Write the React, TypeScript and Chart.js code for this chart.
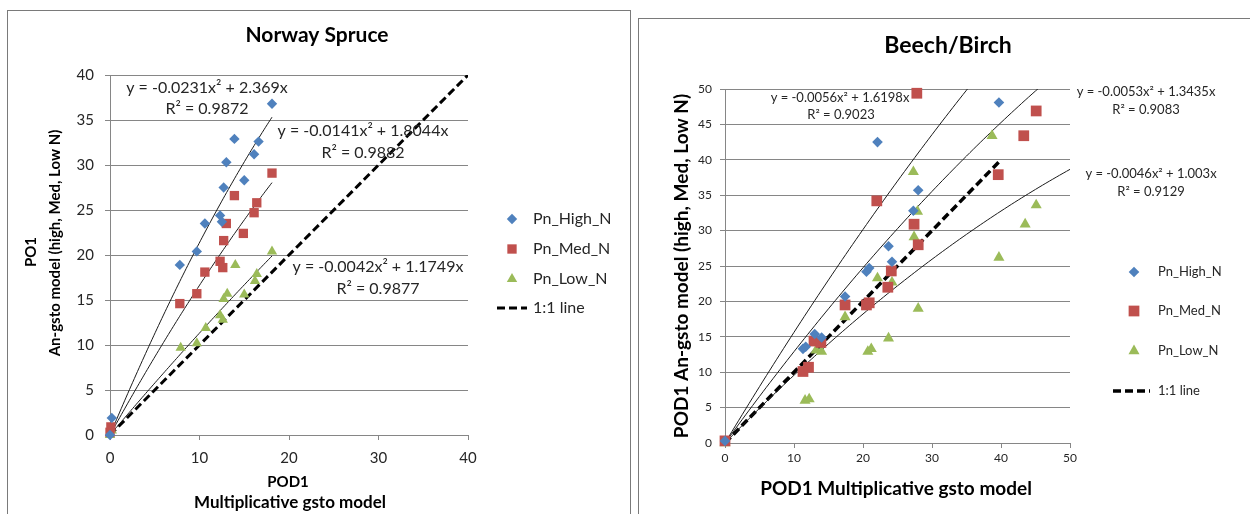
import React, { useEffect, useRef } from "react";
import { Chart, registerables } from "chart.js";
import { drawPoint } from "chart.js/helpers";

Chart.register(...registerables);

const FONT = "Lato, 'Liberation Sans', sans-serif";
const GRID = "#868686";
const TEXT = "#262626";
const COLORS = ["#4F81BD", "#C0504D", "#9BBB59"];
const STYLES = ["rectRot", "rect", "triangle"];

const seriesNames = ["Pn_High_N", "Pn_Med_N", "Pn_Low_N"];
const oneToOneName = "1:1 line";

// ---------- Norway Spruce ----------
const spruceHighX = [0, 0.2, 7.8, 9.7, 10.6, 12.3, 12.5, 12.7, 13.0, 13.9, 15.0, 16.1, 16.6, 18.1];
const spruceHighY = [0, 1.9, 18.9, 20.4, 23.5, 24.4, 23.7, 27.5, 30.3, 32.9, 28.3, 31.2, 32.6, 36.8];
const spruceMedX = [0, 0.1, 7.8, 9.7, 10.6, 12.3, 12.6, 12.7, 13.0, 13.9, 14.9, 16.1, 16.4, 18.1];
const spruceMedY = [0.3, 0.9, 14.6, 15.7, 18.1, 19.3, 18.6, 21.6, 23.5, 26.6, 22.4, 24.7, 25.8, 29.1];
const spruceLowX = [0, 0.2, 7.9, 9.7, 10.7, 12.3, 12.6, 12.7, 13.1, 14.0, 15.0, 16.2, 16.4, 18.1];
const spruceLowY = [0, 0.5, 9.7, 10.2, 11.9, 13.3, 12.8, 15.1, 15.7, 18.9, 15.6, 17.1, 17.9, 20.4];
// polynomial trendline coefficients as printed on the chart (y = a x^2 + b x)
const spruceTrendA = [-0.0231, -0.0141, -0.0042];
const spruceTrendB = [2.369, 1.8044, 1.1749];
const spruceTrendRange = [0, 18.1];
const spruceOneToOne = [0, 40];
const spruceEquations = ["y = -0.0231x² + 2.369x", "y = -0.0141x² + 1.8044x", "y = -0.0042x² + 1.1749x"];
const spruceR2 = ["R² = 0.9872", "R² = 0.9882", "R² = 0.9877"];

// ---------- Beech/Birch ----------
const beechHighX = [0, 11.3, 11.7, 13.0, 14.0, 17.4, 20.5, 20.9, 22.1, 23.7, 24.2, 27.3, 28.0, 39.7];
const beechHighY = [0.3, 13.3, 13.6, 15.4, 14.9, 20.7, 24.2, 24.7, 42.5, 27.8, 25.6, 32.8, 35.7, 48.1];
const beechMedX = [0, 11.3, 12.1, 12.9, 13.9, 17.4, 20.5, 20.9, 22.0, 23.6, 24.1, 27.4, 28.0, 27.8, 39.6, 43.3, 45.1];
const beechMedY = [0.3, 10.1, 10.7, 14.4, 14.2, 19.5, 19.5, 19.8, 34.2, 22.0, 24.3, 30.9, 28.0, 49.4, 37.9, 43.4, 46.9];
const beechLowX = [0, 11.6, 12.2, 13.2, 14.0, 17.4, 20.7, 21.2, 22.1, 23.7, 24.2, 27.3, 27.4, 27.9, 28.0, 38.7, 39.7, 43.5, 45.1];
const beechLowY = [0, 6.0, 6.2, 13.1, 12.9, 17.8, 12.9, 13.3, 23.3, 14.8, 22.7, 38.3, 29.1, 32.7, 19.0, 43.4, 26.2, 30.9, 33.6];
const beechTrendA = [-0.0056, -0.0053, -0.0046];
const beechTrendB = [1.6198, 1.3435, 1.003];
const beechTrendRange = [0, 50];
const beechOneToOne = [0, 40];
const beechEquations = ["y = -0.0056x² + 1.6198x", "y = -0.0053x² + 1.3435x", "y = -0.0046x² + 1.003x"];
const beechR2 = ["R² = 0.9023", "R² = 0.9083", "R² = 0.9129"];

type TextItem = { text: string; x: number; y: number; size: number; bold?: boolean; rotate?: boolean; color?: string };

type PanelSpec = {
  left: number;
  width: number;
  height: number;
  area: { left: number; top: number; right: number; bottom: number };
  xs: number[][];
  ys: number[][];
  radii: number[];
  trendA: number[];
  trendB: number[];
  trendRange: number[];
  oneToOne: number[];
  dashWidth: number;
  xMax: number;
  xStep: number;
  yMax: number;
  yStep: number;
  tickSize: number;
  xTickPad: number;
  yTickPad: number;
  texts: TextItem[];
  legend: { markerX: number; textX: number; ys: number[]; size: number; dashFrom: number; dashTo: number };
};

function zip(xs: number[], ys: number[]) {
  return xs.map((x, i) => ({ x, y: ys[i] }));
}

function trendPoints(a: number, b: number, range: number[]) {
  const pts: { x: number; y: number }[] = [];
  const n = 100;
  for (let i = 0; i <= n; i++) {
    const x = range[0] + ((range[1] - range[0]) * i) / n;
    pts.push({ x, y: a * x * x + b * x });
  }
  return pts;
}

const spruce: PanelSpec = {
  left: 0,
  width: 634,
  height: 514,
  area: { left: 110, top: 75, right: 468, bottom: 435 },
  xs: [spruceHighX, spruceMedX, spruceLowX],
  ys: [spruceHighY, spruceMedY, spruceLowY],
  radii: [5.2, 6.6, 6],
  trendA: spruceTrendA,
  trendB: spruceTrendB,
  trendRange: spruceTrendRange,
  oneToOne: spruceOneToOne,
  dashWidth: 3,
  xMax: 40,
  xStep: 10,
  yMax: 40,
  yStep: 5,
  tickSize: 15,
  xTickPad: 9,
  yTickPad: 11,
  texts: [
    { text: "Norway Spruce", x: 317, y: 35, size: 21, bold: true, color: "#000" },
    { text: "POD1", x: 288, y: 482, size: 15, bold: true, color: "#000" },
    { text: "Multiplicative gsto model", x: 290, y: 503, size: 17, bold: true, color: "#000" },
    { text: "PO1", x: 31, y: 252, size: 15, bold: true, rotate: true, color: "#000" },
    { text: "An-gsto model (high, Med, Low N)", x: 55, y: 243, size: 15, bold: true, rotate: true, color: "#000" },
    { text: spruceEquations[0], x: 207, y: 88, size: 16 },
    { text: spruceR2[0], x: 207, y: 109, size: 16 },
    { text: spruceEquations[1], x: 363, y: 131, size: 16 },
    { text: spruceR2[1], x: 363, y: 153, size: 16 },
    { text: spruceEquations[2], x: 378, y: 267, size: 16 },
    { text: spruceR2[2], x: 378, y: 289, size: 16 },
  ],
  legend: { markerX: 512, textX: 533, ys: [219, 249, 279, 308], size: 16, dashFrom: 497, dashTo: 527 },
};

const beech: PanelSpec = {
  left: 634,
  width: 616,
  height: 514,
  area: { left: 725, top: 89, right: 1070, bottom: 443 },
  xs: [beechHighX, beechMedX, beechLowX],
  ys: [beechHighY, beechMedY, beechLowY],
  radii: [5.3, 7.6, 6.4],
  trendA: beechTrendA,
  trendB: beechTrendB,
  trendRange: beechTrendRange,
  oneToOne: beechOneToOne,
  dashWidth: 3.5,
  xMax: 50,
  xStep: 10,
  yMax: 50,
  yStep: 5,
  tickSize: 12,
  xTickPad: 3,
  yTickPad: 8,
  texts: [
    { text: "Beech/Birch", x: 948, y: 46, size: 23, bold: true, color: "#000" },
    { text: "POD1 Multiplicative gsto model", x: 896, y: 489, size: 19, bold: true, color: "#000" },
    { text: "POD1 An-gsto model (high, Med, Low N)", x: 682, y: 266, size: 19, bold: true, rotate: true, color: "#000" },
    { text: beechEquations[0], x: 840, y: 98, size: 13 },
    { text: beechR2[0], x: 841, y: 115, size: 13 },
    { text: beechEquations[1], x: 1146, y: 92, size: 13 },
    { text: beechR2[1], x: 1146, y: 110, size: 13 },
    { text: beechEquations[2], x: 1151, y: 174, size: 13 },
    { text: beechR2[2], x: 1151, y: 192, size: 13 },
  ],
  legend: { markerX: 1134, textX: 1158, ys: [272, 311, 351, 391], size: 13, dashFrom: 1113, dashTo: 1150 },
};

function buildConfig(p: PanelSpec): any {
  const datasets: any[] = [];
  for (let i = 0; i < 3; i++) {
    datasets.push({
      label: seriesNames[i],
      data: zip(p.xs[i], p.ys[i]),
      pointStyle: STYLES[i],
      pointRadius: p.radii[i],
      backgroundColor: COLORS[i],
      borderColor: COLORS[i],
      borderWidth: 0,
      showLine: false,
      clip: false,
    });
  }
  for (let i = 0; i < 3; i++) {
    datasets.push({
      label: seriesNames[i] + " trend",
      data: trendPoints(p.trendA[i], p.trendB[i], p.trendRange),
      showLine: true,
      pointRadius: 0,
      borderColor: "#1a1a1a",
      borderWidth: 1,
      tension: 0,
    });
  }
  datasets.push({
    label: oneToOneName,
    data: [
      { x: p.oneToOne[0], y: p.oneToOne[0] },
      { x: p.oneToOne[1], y: p.oneToOne[1] },
    ],
    showLine: true,
    pointRadius: 0,
    borderColor: "#000",
    borderWidth: p.dashWidth,
    borderDash: [8, 4],
  });

  const off = p.left;
  const decor = {
    id: "decor",
    afterDraw(chart: any) {
      const ctx = chart.ctx as CanvasRenderingContext2D;
      ctx.save();
      ctx.textBaseline = "middle";
      for (const t of p.texts) {
        ctx.font = `${t.bold ? "bold " : ""}${t.size}px ${FONT}`;
        ctx.fillStyle = t.color || TEXT;
        ctx.textAlign = "center";
        if (t.rotate) {
          ctx.save();
          ctx.translate(t.x - off, t.y);
          ctx.rotate(-Math.PI / 2);
          ctx.fillText(t.text, 0, 0);
          ctx.restore();
        } else {
          ctx.fillText(t.text, t.x - off, t.y);
        }
      }
      // legend
      const L = p.legend;
      ctx.textAlign = "left";
      ctx.font = `${L.size}px ${FONT}`;
      for (let i = 0; i < 3; i++) {
        ctx.fillStyle = COLORS[i];
        ctx.strokeStyle = COLORS[i];
        drawPoint(ctx, { pointStyle: STYLES[i], radius: p.radii[i], rotation: 0, borderWidth: 0 } as any, L.markerX - off, L.ys[i]);
        ctx.fillStyle = TEXT;
        ctx.fillText(seriesNames[i], L.textX - off, L.ys[i]);
      }
      ctx.strokeStyle = "#000";
      ctx.lineWidth = p.dashWidth;
      ctx.setLineDash([8, 4]);
      ctx.beginPath();
      ctx.moveTo(L.dashFrom - off, L.ys[3]);
      ctx.lineTo(L.dashTo - off, L.ys[3]);
      ctx.stroke();
      ctx.setLineDash([]);
      ctx.fillStyle = TEXT;
      ctx.fillText(oneToOneName, L.textX - off, L.ys[3]);
      ctx.restore();
    },
  };

  const a = p.area;
  return {
    type: "scatter",
    data: { datasets },
    plugins: [decor],
    options: {
      responsive: false,
      maintainAspectRatio: false,
      animation: false,
      events: [],
      layout: {
        padding: { left: 0, top: a.top, right: p.width - (a.right - off), bottom: 0 },
      },
      plugins: { legend: { display: false }, tooltip: { enabled: false }, title: { display: false } },
      scales: {
        x: {
          type: "linear",
          min: 0,
          max: p.xMax,
          ticks: { stepSize: p.xStep, color: TEXT, font: { family: FONT, size: p.tickSize }, padding: p.xTickPad, maxRotation: 0 },
          grid: { drawOnChartArea: false, drawTicks: true, tickLength: 5, color: GRID },
          border: { display: true, color: GRID, width: 1 },
          afterFit: (s: any) => {
            s.height = p.height - a.bottom;
          },
        },
        y: {
          type: "linear",
          min: 0,
          max: p.yMax,
          ticks: { stepSize: p.yStep, color: TEXT, font: { family: FONT, size: p.tickSize }, padding: p.yTickPad },
          grid: { drawTicks: true, tickLength: 5, color: GRID },
          border: { display: true, color: GRID, width: 1 },
          afterFit: (s: any) => {
            s.width = a.left - off;
          },
        },
      },
    },
  };
}

function ScatterPanel({ p }: { p: PanelSpec }) {
  const ref = useRef<HTMLCanvasElement>(null);
  useEffect(() => {
    const chart = new Chart(ref.current as HTMLCanvasElement, buildConfig(p));
    return () => chart.destroy();
  }, []);
  return (
    <canvas
      ref={ref}
      width={p.width}
      height={p.height}
      style={{ position: "absolute", left: p.left, top: 0, width: p.width, height: p.height }}
    />
  );
}

export default function App() {
  return (
    <div style={{ position: "fixed", left: 0, top: 0, width: 1250, height: 514, overflow: "hidden", background: "#fff" }}>
      <div
        style={{
          position: "absolute",
          left: 7,
          top: 10,
          width: 622,
          height: 540,
          borderLeft: "1px solid #7a7a7a",
          borderTop: "1px solid #7a7a7a",
          borderRight: "1px solid #7a7a7a",
        }}
      />
      <div
        style={{
          position: "absolute",
          left: 638,
          top: 18,
          width: 700,
          height: 540,
          borderLeft: "1px solid #7a7a7a",
          borderTop: "1px solid #7a7a7a",
        }}
      />
      <ScatterPanel p={spruce} />
      <ScatterPanel p={beech} />
    </div>
  );
}
